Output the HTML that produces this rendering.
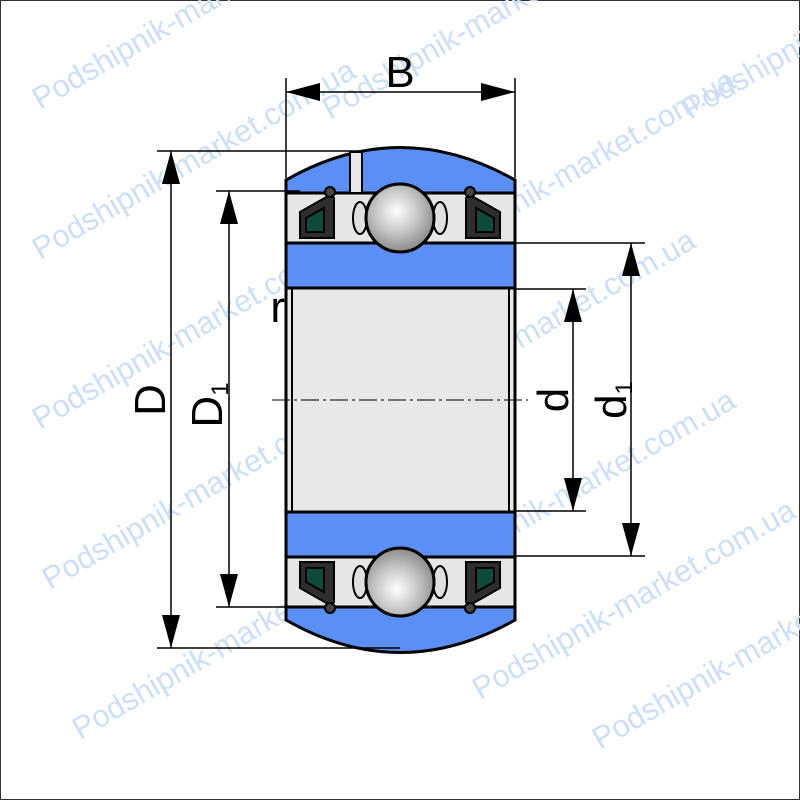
<!DOCTYPE html>
<html><head><meta charset="utf-8"><style>
html,body{margin:0;padding:0;background:#fff}
svg{display:block}
text{font-family:"Liberation Sans",sans-serif}
</style></head><body>
<svg width="800" height="800" viewBox="0 0 800 800" xmlns="http://www.w3.org/2000/svg">
<defs>
<radialGradient id="ball" cx="0.45" cy="0.4" r="0.6">
<stop offset="0" stop-color="#ffffff"/><stop offset="0.6" stop-color="#bdbdbd"/><stop offset="1" stop-color="#8a8a8a"/>
</radialGradient>
<g id="half">
<path d="M286,180 Q400,115 515,180 L515,193 L286,193 Z" fill="#5b8ff5" stroke="#000" stroke-width="3"/>
<rect x="286" y="193" width="229" height="50" fill="#e6e6e6" stroke="#000" stroke-width="3"/>
<rect x="286" y="243" width="229" height="45" fill="#5b8ff5" stroke="#000" stroke-width="3"/>
<g stroke="#000" stroke-width="2">
<path d="M300,212 L330,195 L334,198 L334,238 L300,238 Z" fill="#2e2e2e"/>
<path d="M306,218 L324,208 L324,232 L306,232 Z" fill="#0f4a3a"/>
<path d="M500,212 L470,195 L466,198 L466,238 L500,238 Z" fill="#2e2e2e"/>
<path d="M494,218 L476,208 L476,232 L494,232 Z" fill="#0f4a3a"/>
<circle cx="330" cy="192" r="5" fill="#444"/>
<circle cx="470" cy="192" r="5" fill="#444"/>
<ellipse cx="360" cy="218" rx="7" ry="16" fill="#e0e0e0"/>
<ellipse cx="440" cy="218" rx="7" ry="16" fill="#e0e0e0"/>
</g>
<circle cx="400" cy="218" r="34" fill="url(#ball)" stroke="#000" stroke-width="3"/>
</g>
</defs>
<rect x="0.5" y="0.5" width="799" height="799" fill="#fff" stroke="#333" stroke-width="1"/>
<g fill="#cddff7" font-size="31">
<text transform="translate(40,110) rotate(-30)">Podshipnik-market.com.ua</text>
<text transform="translate(330,120) rotate(-30)">Podshipnik-market.com.ua</text>
<text transform="translate(690,120) rotate(-30)">Podshipnik</text>
<text transform="translate(40,260) rotate(-30)">Podshipnik-market.com.ua</text>
<text transform="translate(420,270) rotate(-30)">Podshipnik-market.com.ua</text>
<text transform="translate(40,430) rotate(-30)">Podshipnik-market.com.ua</text>
<text transform="translate(380,430) rotate(-30)">Podshipnik-market.com.ua</text>
<text transform="translate(50,590) rotate(-30)">Podshipnik-market.com.ua</text>
<text transform="translate(420,590) rotate(-30)">Podshipnik-market.com.ua</text>
<text transform="translate(80,740) rotate(-30)">Podshipnik-market.com.ua</text>
<text transform="translate(480,700) rotate(-30)">Podshipnik-market.com.ua</text>
<text transform="translate(600,750) rotate(-30)">Podshipnik-market.com.ua</text>
</g>
<rect x="286" y="288" width="229" height="224" fill="#e8e8e8" stroke="#000" stroke-width="3"/>
<line x1="292" y1="288" x2="292" y2="512" stroke="#000" stroke-width="2"/>
<line x1="509" y1="288" x2="509" y2="512" stroke="#000" stroke-width="2"/>
<line x1="272" y1="400" x2="528" y2="400" stroke="#000" stroke-width="1" stroke-dasharray="18,4,3,4"/>
<use href="#half"/>
<use href="#half" transform="translate(0,800) scale(1,-1)"/>
<rect x="350" y="152" width="12" height="41" fill="#e8e8e8" stroke="#000" stroke-width="2"/>
<g stroke="#000" stroke-width="1.5" fill="none">
<line x1="286" y1="78" x2="286" y2="178"/><line x1="515" y1="78" x2="515" y2="178"/>
<line x1="286" y1="92" x2="515" y2="92"/>
<line x1="157" y1="151" x2="360" y2="151"/><line x1="157" y1="648" x2="400" y2="648"/>
<line x1="171" y1="151" x2="171" y2="648"/>
<line x1="216" y1="191" x2="300" y2="191"/><line x1="216" y1="607" x2="300" y2="607"/>
<line x1="229" y1="191" x2="229" y2="607"/>
<line x1="515" y1="243" x2="645" y2="243"/><line x1="515" y1="556" x2="645" y2="556"/>
<line x1="631" y1="243" x2="631" y2="556"/>
<line x1="515" y1="289" x2="586" y2="289"/><line x1="515" y1="511" x2="586" y2="511"/>
<line x1="573" y1="289" x2="573" y2="511"/>
</g>
<g fill="#000">
<path d="M286,92 L320,83 L320,101 Z"/><path d="M515,92 L481,83 L481,101 Z"/>
<path d="M171,151 L162,184 L180,184 Z"/><path d="M171,648 L162,615 L180,615 Z"/>
<path d="M229,191 L220,224 L238,224 Z"/><path d="M229,607 L220,574 L238,574 Z"/>
<path d="M631,243 L622,276 L640,276 Z"/><path d="M631,556 L622,523 L640,523 Z"/>
<path d="M573,289 L564,322 L582,322 Z"/><path d="M573,511 L564,478 L582,478 Z"/>
</g>
<g fill="#000" font-size="44">
<text x="400" y="87" text-anchor="middle">B</text>
<text x="285" y="322" text-anchor="end">r</text>
<text transform="translate(165,400) rotate(-90)" text-anchor="middle">D</text>
<text transform="translate(222,405) rotate(-90)" text-anchor="middle">D<tspan font-size="24" dy="6">1</tspan></text>
<text transform="translate(568,400) rotate(-90)" text-anchor="middle">d</text>
<text transform="translate(626,400) rotate(-90)" text-anchor="middle">d<tspan font-size="24" dy="6">1</tspan></text>
</g>
</svg>
</body></html>
